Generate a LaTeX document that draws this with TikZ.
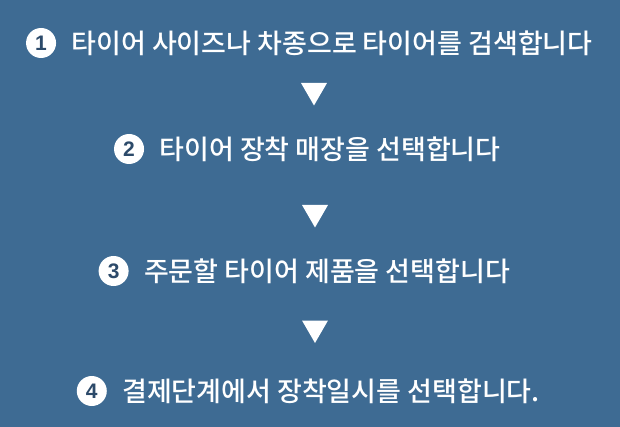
\documentclass[tikz,border=0pt]{standalone}
\usepackage{fontspec}
\newfontfamily\krfont[RawFeature=+palt]{Noto Sans CJK KR Medium}
\newfontfamily\numfont{Liberation Sans}
\usetikzlibrary{positioning, shapes.geometric}
\definecolor{bgblue}{RGB}{62,107,147}
\definecolor{numblue}{RGB}{44,74,106}

\begin{document}
\begin{tikzpicture}[
  x=1pt, y=-1pt,
  node distance=15pt,
  stepnode/.style={text=white, inner sep=0pt,
                   font=\krfont\fontsize{27}{30}\selectfont},
  num/.style={circle, fill=white, text=numblue, inner sep=0pt,
              minimum size=30pt, font=\numfont\bfseries\fontsize{21}{23}\selectfont},
  tri/.style={regular polygon, regular polygon sides=3, shape border rotate=180,
              fill=white, inner sep=0pt, minimum size=30pt}
]
\fill[bgblue] (0,0) rectangle (620,427);
\useasboundingbox (0,0) rectangle (620,427);

% the four steps, each with its number to the left
\node[stepnode] (s1) at (332,43) {타이어 사이즈나 차종으로 타이어를 검색합니다};
\node[stepnode] (s2) at (330,149) {타이어 장착 매장을 선택합니다};
\node[stepnode] (s3) at (327,271) {주문할 타이어 제품을 선택합니다};
\node[stepnode] (s4) at (331,391) {결제단계에서 장착일시를 선택합니다.};
\node[num, left=of s1] (n1) {1};
\node[num, left=of s2] (n2) {2};
\node[num, left=of s3] (n3) {3};
\node[num, left=of s4] (n4) {4};

% down markers between the steps
\node[tri] (t1) at (314,90.5) {};
\node[tri] (t2) at (315,212.5) {};
\node[tri] (t3) at (315,328) {};
\end{tikzpicture}
\end{document}
